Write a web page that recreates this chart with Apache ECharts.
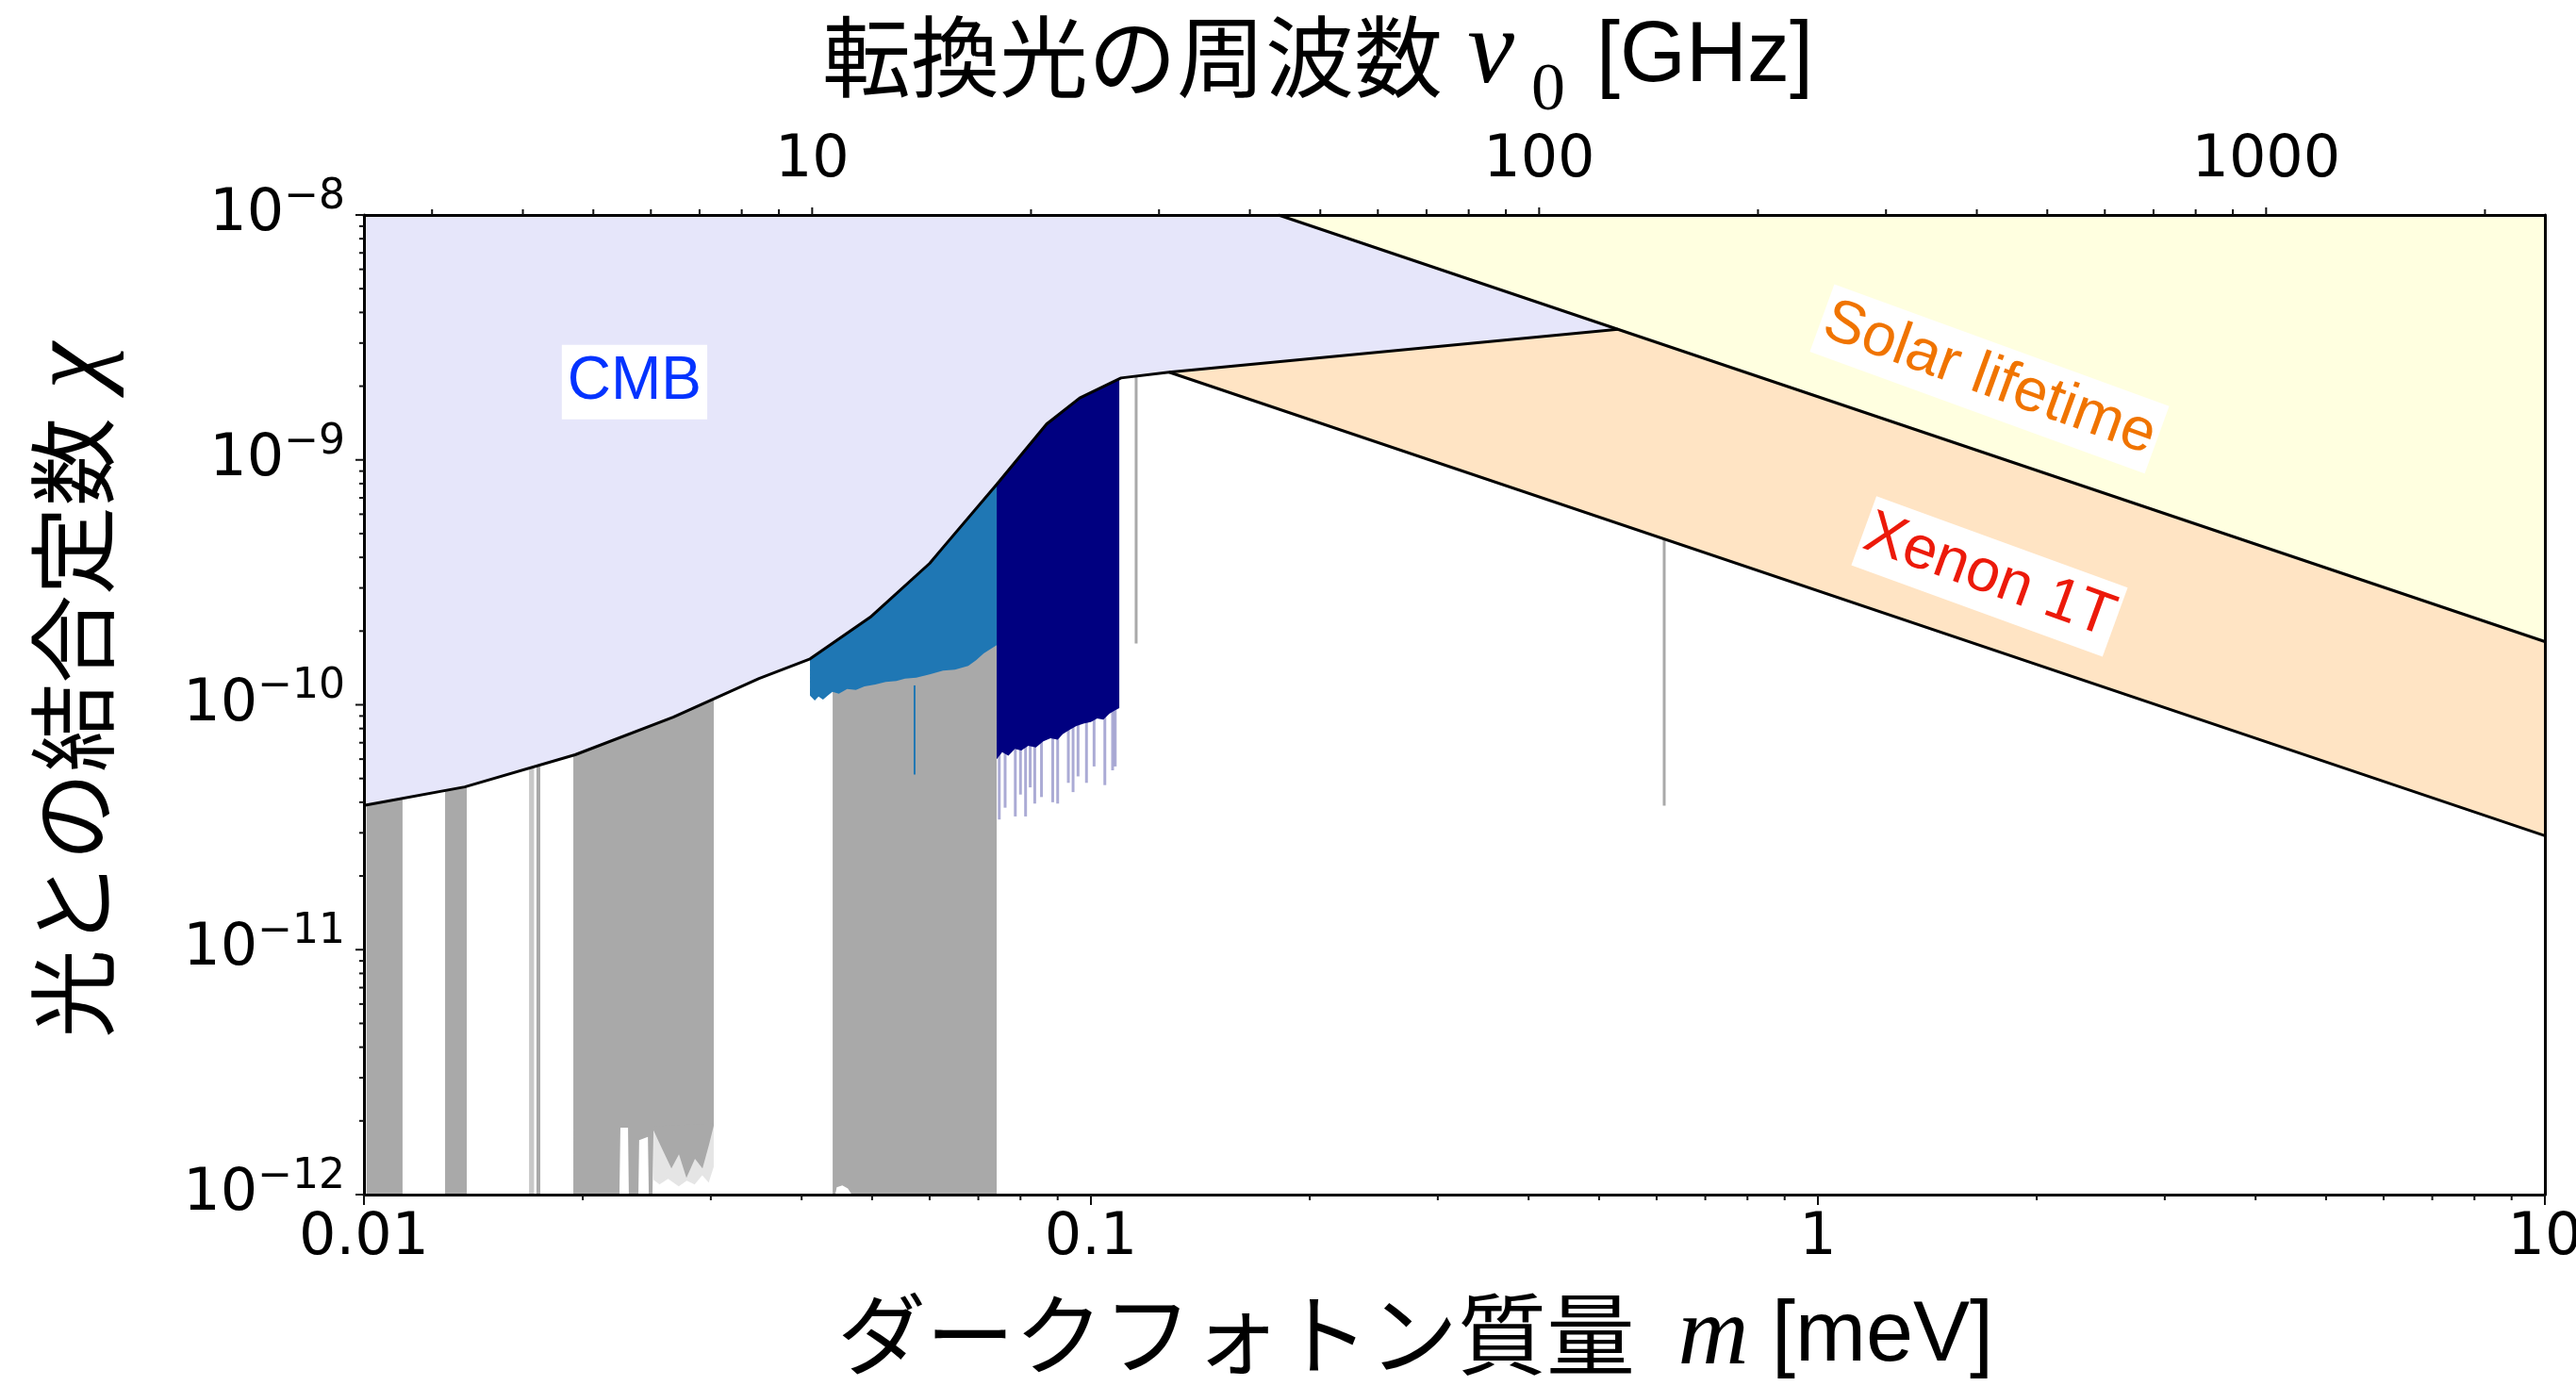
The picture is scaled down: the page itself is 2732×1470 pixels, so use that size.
<!DOCTYPE html>
<html>
<head>
<meta charset="utf-8">
<script src="https://cdn.jsdelivr.net/npm/echarts@6/dist/echarts.min.js"></script>
<style>
  html, body { margin: 0; padding: 0; background: #fff; }
  #chart { width: 2732px; height: 1470px; }
</style>
</head>
<body>
<div id="chart"></div>
<script>
// Dark photon mass m [meV] vs. kinetic mixing χ, with the converted photon frequency on the top axis.
const GHZ_PER_MEV = 241.8;
const massRange = [0.01, 10];
const chiRange = [1e-12, 1e-8];
const freqRange = [massRange[0] * GHZ_PER_MEV, massRange[1] * GHZ_PER_MEV];

// tick values
const massMajorTicks = [0.01, 0.1, 1, 10];
const chiMajorTicks = [1e-12, 1e-11, 1e-10, 1e-9, 1e-8];
const freqMajorTicks = [10, 100, 1000];
const minorSteps = [2, 3, 4, 5, 6, 7, 8, 9];
const massDecades = [0.01, 0.1, 1];
const chiDecades = [1e-12, 1e-11, 1e-10, 1e-9];
const freqDecades = [1, 10, 100, 1000];

// CMB bound (mass [meV], χ)
const cmbBoundary = [
  [0.01, 3.88e-11], [0.01376, 4.62e-11], [0.01952, 6.25e-11], [0.02663, 8.9e-11],
  [0.03495, 1.28e-10], [0.04108, 1.54e-10], [0.04972, 2.28e-10], [0.060, 3.78e-10],
  [0.0626, 4.39e-10], [0.0742, 7.94e-10], [0.0869, 1.40e-9], [0.0965, 1.79e-9],
  [0.110, 2.16e-9], [0.1281, 2.28e-9], [0.531, 3.41e-9]
];
// Solar lifetime bound
const solarLine = [[0.1811, 1e-8], [10, 1.811e-10]];
// XENON1T bound
const xenonLine = [[0.1281, 2.28e-9], [10, 2.92e-11]];

// haloscope exclusions (grey)
const greyBand1 = [[0.01008, 1e-12], [0.01008, 1e-8], [0.0113, 1e-8], [0.0113, 1e-12]];
const greyBand2 = [[0.01293, 1e-12], [0.01293, 1e-8], [0.01385, 1e-8], [0.01385, 1e-12]];
const greyBand3a = [[0.01687, 1e-12], [0.01687, 1e-8], [0.01714, 1e-8], [0.01714, 1e-12]];
const greyBand3b = [[0.01727, 1e-12], [0.01727, 1e-8], [0.01748, 1e-8], [0.01748, 1e-12]];
const greyBand4 = [
  [0.01941, 1e-8], [0.03028, 1e-8], [0.03028, 1.91e-12], [0.02983, 1.6e-12], [0.02922, 1.28e-12],
  [0.02853, 1.4e-12], [0.02777, 1.17e-12], [0.02712, 1.46e-12], [0.02648, 1.28e-12],
  [0.02555, 1.6e-12], [0.02502, 1.83e-12], [0.02494, 1e-12], [0.02465, 1e-12],
  [0.02458, 1.72e-12], [0.02391, 1.67e-12], [0.02385, 1e-12], [0.02314, 1e-12],
  [0.02308, 1.875e-12], [0.02253, 1.875e-12], [0.02246, 1e-12], [0.01941, 1e-12]
];
const greyBand4Tail = [
  [0.02502, 1.9e-12], [0.03028, 1.95e-12], [0.03028, 1.3e-12], [0.0298, 1.12e-12],
  [0.0292, 1.2e-12], [0.0285, 1.1e-12], [0.0278, 1.14e-12], [0.0271, 1.08e-12],
  [0.0262, 1.16e-12], [0.0255, 1.1e-12], [0.02502, 1.15e-12]
];
const greyBand5 = [
  [0.04413, 1e-8], [0.07419, 1e-8], [0.07419, 1e-12], [0.0469, 1e-12], [0.0463, 1.06e-12],
  [0.0455, 1.09e-12], [0.0447, 1.07e-12], [0.0445, 1e-12], [0.04413, 1e-12]
];

// lower edge of the light-blue exclusion
const blueBottom = [
  [0.04107, 1.09e-10], [0.0417, 1.04e-10], [0.0422, 1.08e-10], [0.0428, 1.05e-10], [0.0436, 1.1e-10],
  [0.0441, 1.13e-10], [0.0450, 1.11e-10], [0.0462, 1.16e-10], [0.0475, 1.15e-10], [0.0488, 1.19e-10],
  [0.0505, 1.21e-10], [0.0522, 1.24e-10], [0.0540, 1.25e-10], [0.0555, 1.28e-10], [0.0575, 1.29e-10],
  [0.0600, 1.33e-10], [0.0626, 1.38e-10], [0.0650, 1.39e-10], [0.0678, 1.44e-10], [0.0695, 1.52e-10],
  [0.0712, 1.62e-10], [0.0728, 1.69e-10], [0.07419, 1.75e-10]
];
// lower edge of the navy exclusion
const navyBottom = [
  [0.07419, 6.0e-11], [0.0755, 6.4e-11], [0.0770, 6.2e-11], [0.0786, 6.6e-11], [0.0802, 6.5e-11],
  [0.0820, 6.8e-11], [0.0840, 6.7e-11], [0.0860, 7.1e-11], [0.0880, 7.3e-11], [0.0900, 7.2e-11],
  [0.0915, 7.6e-11], [0.0935, 7.9e-11], [0.0955, 8.2e-11], [0.0979, 8.4e-11], [0.1000, 8.5e-11],
  [0.1020, 8.8e-11], [0.1040, 8.7e-11], [0.1060, 9.2e-11], [0.1080, 9.5e-11], [0.1094, 9.7e-11]
];
// narrow resonances below the navy region (mass, lowest χ)
const navySpikes = [
  [0.0748, 3.4e-11], [0.0762, 3.8e-11], [0.0787, 3.5e-11], [0.0800, 4.3e-11], [0.0813, 3.5e-11],
  [0.0825, 4.6e-11], [0.0837, 3.95e-11], [0.0855, 4.2e-11], [0.0886, 4.0e-11], [0.0900, 3.95e-11],
  [0.0931, 4.8e-11], [0.0945, 4.4e-11], [0.0960, 5.1e-11], [0.0986, 4.8e-11], [0.1010, 5.6e-11],
  [0.1045, 4.7e-11], [0.1071, 5.4e-11], [0.1080, 5.6e-11]
];
// single narrow exclusions (mass, χ from, χ to)
const blueNeedles = [[0.0572, 1.2e-10, 5.19e-11]];
const greyNeedles = [[0.1154, 1e-8, 1.78e-10], [0.6146, 1e-8, 3.87e-11]];

// region labels: [mass, χ]
const cmbLabelAt = [0.02356, 2.08e-9];
const solarLabelAt = [1.722, 2.14e-9];
const xenonLabelAt = [1.722, 3.34e-10];

const C = {
  cmb: '#E6E6FA', solar: '#FFFFE0', xenon: '#FFE4C4',
  grey: '#A9A9A9', greyLight: '#C8C8C8', blue: '#1F77B4', navy: '#000080'
};

function polygonSeries(name, pts, fill, z, opacity) {
  return {
    name, type: 'custom', coordinateSystem: 'cartesian2d', xAxisIndex: 0, yAxisIndex: 0,
    data: pts, z, silent: true,
    renderItem(params, api) {
      if (params.dataIndex !== 0) return null;
      return {
        type: 'polygon',
        shape: { points: pts.map(p => api.coord(p)) },
        style: { fill, opacity: opacity == null ? 1 : opacity }
      };
    }
  };
}

function needleSeries(name, rows, stroke, width, z, opacity) {
  return {
    name, type: 'custom', coordinateSystem: 'cartesian2d', xAxisIndex: 0, yAxisIndex: 0,
    data: rows, z, silent: true,
    renderItem(params, api) {
      const a = api.coord([api.value(0), api.value(1)]);
      const b = api.coord([api.value(0), api.value(2)]);
      return {
        type: 'line', shape: { x1: a[0], y1: a[1], x2: b[0], y2: b[1] },
        style: { stroke, lineWidth: width, opacity: opacity == null ? 1 : opacity }
      };
    }
  };
}

const boundaryLine = (name, data) => ({
  name, type: 'line', data, symbol: 'none', showSymbol: false, silent: true, z: 20,
  lineStyle: { color: '#000', width: 3 }
});

function minorList(decades, lo, hi) {
  const out = [];
  decades.forEach(d => minorSteps.forEach(s => { const v = d * s; if (v > lo && v < hi) out.push(v); }));
  return out;
}

// tick marks along one side of the frame
function tickSeries(side, values, len) {
  const isTop = side === 'top';
  const data = values.map(v => side === 'left' ? [massRange[0], v]
    : [v, side === 'top' ? chiRange[1] : chiRange[0]]);
  return {
    type: 'custom', coordinateSystem: 'cartesian2d', xAxisIndex: isTop ? 1 : 0, yAxisIndex: 0,
    data, z: 40, silent: true,
    renderItem(params, api) {
      const p = api.coord([api.value(0), api.value(1)]);
      let x2 = p[0], y2 = p[1];
      if (side === 'bottom') y2 += len; else if (side === 'top') y2 -= len; else x2 -= len;
      return { type: 'line', shape: { x1: p[0], y1: p[1], x2, y2 }, style: { stroke: '#111', lineWidth: 2 } };
    }
  };
}

function regionLabel(name, at, text, color, rotate, padding) {
  return {
    name, type: 'scatter', data: [at], symbolSize: 0, silent: true, z: 50,
    itemStyle: { opacity: 1 },
    label: {
      show: true, position: 'inside', formatter: text, color, rotate, opacity: 1,
      fontSize: 64, fontFamily: 'Liberation Sans', backgroundColor: '#fff', padding
    },
    emphasis: { disabled: true }
  };
}

const expOf = v => Math.round(Math.log10(v));
const isDecade = v => Math.abs(Math.log10(v) - expOf(v)) < 1e-6;

const axisLineStyle = { show: true, lineStyle: { color: '#000', width: 3 } };
const tickFont = { fontSize: 62, fontFamily: 'DejaVu Sans', color: '#000' };

const cmbRegion = [[massRange[0], chiRange[1]], solarLine[0], cmbBoundary[cmbBoundary.length - 1]]
  .concat(cmbBoundary.slice(0, -1).reverse());
const solarRegion = [solarLine[0], [massRange[1], chiRange[1]], solarLine[1]];
const xenonRegion = [xenonLine[0], cmbBoundary[cmbBoundary.length - 1], solarLine[1], xenonLine[1]];
const blueRegion = [[blueBottom[0][0], chiRange[1]], [blueBottom[blueBottom.length - 1][0], chiRange[1]]]
  .concat(blueBottom.slice().reverse());
const navyRegion = [[navyBottom[0][0], chiRange[1]], [navyBottom[navyBottom.length - 1][0], chiRange[1]]]
  .concat(navyBottom.slice().reverse());
const spikeTop = 1e-10;

const option = {
  animation: false,
  backgroundColor: '#fff',
  textStyle: { fontFamily: 'DejaVu Sans' },
  grid: { left: 386, right: 33, top: 228, bottom: 203, containLabel: false, outerBoundsMode: 'none' },
  xAxis: [
    {
      type: 'log', logBase: 10, min: massRange[0], max: massRange[1], position: 'bottom', z: 30,
      axisLine: axisLineStyle, axisTick: { show: false }, splitLine: { show: false },
      axisLabel: Object.assign({ margin: 16, showMinLabel: true, showMaxLabel: true,
        formatter: v => { const e = expOf(v); return e < 0 ? Math.pow(10, e).toFixed(-e) : String(Math.pow(10, e)); } }, tickFont)
    },
    {
      type: 'log', logBase: 10, min: freqRange[0], max: freqRange[1], position: 'top', z: 30,
      axisLine: axisLineStyle, axisTick: { show: false }, splitLine: { show: false },
      axisLabel: Object.assign({ margin: 26, formatter: v => isDecade(v) && freqMajorTicks.includes(Math.pow(10, expOf(v))) ? String(Math.pow(10, expOf(v))) : '' }, tickFont)
    }
  ],
  yAxis: [
    {
      type: 'log', logBase: 10, min: chiRange[0], max: chiRange[1], position: 'left', z: 30,
      axisLine: axisLineStyle, axisTick: { show: false }, splitLine: { show: false },
      axisLabel: {
        margin: 20, showMinLabel: true, showMaxLabel: true,
        formatter: v => '{b|10}{s|−' + (-expOf(v)) + '}',
        rich: {
          b: { fontSize: 62, fontFamily: 'DejaVu Sans', color: '#000', lineHeight: 81 },
          s: { fontSize: 44, fontFamily: 'DejaVu Sans', color: '#000', lineHeight: 44, verticalAlign: 'top' }
        }
      }
    },
    {
      type: 'log', logBase: 10, min: chiRange[0], max: chiRange[1], position: 'right', z: 30,
      axisLine: axisLineStyle, axisTick: { show: false }, splitLine: { show: false }, axisLabel: { show: false }
    }
  ],
  series: [
    polygonSeries('grey1', greyBand1, C.grey, 2),
    polygonSeries('grey2', greyBand2, C.grey, 2),
    polygonSeries('grey3a', greyBand3a, C.greyLight, 2),
    polygonSeries('grey3b', greyBand3b, C.grey, 2),
    polygonSeries('grey4', greyBand4, C.grey, 2),
    polygonSeries('grey4tail', greyBand4Tail, C.grey, 2, 0.3),
    polygonSeries('grey5', greyBand5, C.grey, 2),
    needleSeries('blueNeedle', blueNeedles, C.blue, 2, 3),
    polygonSeries('blue', blueRegion, C.blue, 4),
    needleSeries('navySpikes', navySpikes.map(s => [s[0], spikeTop, s[1]]), C.navy, 3, 5, 0.33),
    polygonSeries('navy', navyRegion, C.navy, 6),
    needleSeries('greyNeedles', greyNeedles, C.grey, 3, 7),
    polygonSeries('CMB', cmbRegion, C.cmb, 10),
    polygonSeries('Solar', solarRegion, C.solar, 10),
    polygonSeries('Xenon', xenonRegion, C.xenon, 10),
    boundaryLine('cmbEdge', cmbBoundary),
    boundaryLine('solarEdge', solarLine),
    boundaryLine('xenonEdge', xenonLine),
    regionLabel('cmbLabel', cmbLabelAt, 'CMB', '#0433FF', 0, [9, 6, 6, 6]),
    regionLabel('solarLabel', solarLabelAt, 'Solar lifetime', '#F07400', -20, [7, 4, 5, 4]),
    regionLabel('xenonLabel', xenonLabelAt, 'Xenon 1T', '#EC1A0A', -20, [8, 3, 6, 3]),
    tickSeries('bottom', massMajorTicks, 11),
    tickSeries('bottom', minorList(massDecades, massRange[0], massRange[1]), 6),
    tickSeries('left', chiMajorTicks, 9),
    tickSeries('left', minorList(chiDecades, chiRange[0], chiRange[1]), 5),
    tickSeries('top', freqMajorTicks, 8),
    tickSeries('top', minorList(freqDecades, freqRange[0], freqRange[1]), 6)
  ],
  graphic: [
    { type: 'text', x: 872, y: 60, style: { text: '転換光の周波数', fontSize: 94, fontFamily: 'Noto Sans CJK JP', fill: '#000', align: 'left', verticalAlign: 'middle' } },
    { type: 'text', x: 1581, y: 58, style: { text: 'ν', fontSize: 112, fontStyle: 'italic', fontFamily: 'Liberation Serif', fill: '#000', align: 'center', verticalAlign: 'middle' } },
    { type: 'text', x: 1642, y: 97, style: { text: '0', fontSize: 72, fontFamily: 'Liberation Serif', fill: '#000', align: 'center', verticalAlign: 'middle' } },
    { type: 'text', x: 1693, y: 61, style: { text: '[GHz]', fontSize: 90, fontFamily: 'Liberation Sans', fill: '#000', align: 'left', verticalAlign: 'middle' } },

    { type: 'text', x: 888, y: 1415, style: { text: 'ダークフォトン質量', fontSize: 94, fontFamily: 'Noto Sans CJK JP', fill: '#000', align: 'left', verticalAlign: 'middle' } },
    { type: 'text', x: 1817, y: 1419, style: { text: 'm', fontSize: 104, fontStyle: 'italic', fontFamily: 'Liberation Serif', fill: '#000', align: 'center', verticalAlign: 'middle' } },
    { type: 'text', x: 1879, y: 1418, style: { text: '[meV]', fontSize: 90, fontFamily: 'Liberation Sans', fill: '#000', align: 'left', verticalAlign: 'middle' } },

    { type: 'text', x: 77, y: 772, rotation: Math.PI / 2, style: { text: '光との結合定数', fontSize: 94, fontFamily: 'Noto Sans CJK JP', fill: '#000', align: 'center', verticalAlign: 'middle' } },
    { type: 'text', x: 78, y: 388, rotation: Math.PI / 2, style: { text: 'χ', fontSize: 112, fontStyle: 'italic', fontFamily: 'Liberation Serif', fill: '#000', align: 'center', verticalAlign: 'middle' } }
  ]
};

const chart = echarts.init(document.getElementById('chart'));
chart.setOption(option);
</script>
</body>
</html>
